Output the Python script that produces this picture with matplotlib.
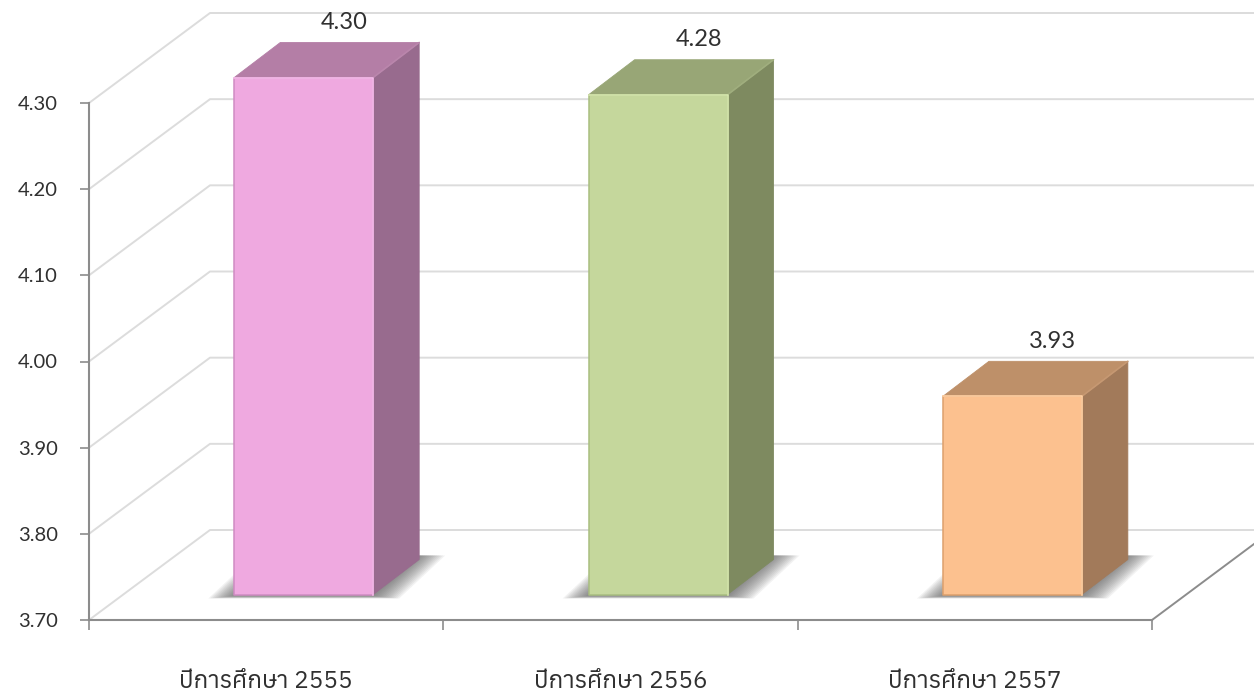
import matplotlib
matplotlib.use("Agg")
import matplotlib.pyplot as plt
from matplotlib import font_manager as fm
from matplotlib.ft2font import FT2Font
from matplotlib.patches import Polygon

categories = ["ปีการศึกษา 2555", "ปีการศึกษา 2556", "ปีการศึกษา 2557"]
values = [4.30, 4.28, 3.93]
value_labels = ["4.30", "4.28", "3.93"]
y_ticks = [3.70, 3.80, 3.90, 4.00, 4.10, 4.20, 4.30]
front_colors = ["#EFA9E0", "#C5D79C", "#FCC18F"]
top_colors = ["#B47EA6", "#98A676", "#BE9069"]
side_colors = ["#986B8E", "#7E8A60", "#A27A5A"]
edge_colors = ["#CF8BC2", "#A9BE80", "#DDA06C"]
light_colors = ["#F7BDEB", "#D8E8B0", "#FFD2A6"]
ridge_colors = ["#BA86AC", "#A0AE7E", "#C69872"]

W, H = 1254, 697
LEFT, RIGHT, BOTTOM, TOP = 89, 1152, 620, 103
PX_X = 3 / (RIGHT - LEFT)     # data units per pixel
PX_Y = 0.6 / (BOTTOM - TOP)
WALL_DX, WALL_DY = 121 * PX_X, 90 * PX_Y
BAR_DX, BAR_DY = 46 * PX_X, 35 * PX_Y
BAR_LEFT, BAR_W = 0.41, 0.392
BAR_LIFT = 25.5 * PX_Y
GRID = "#DCDCDC"
AXIS = "#8C8C8C"
INK = "#303030"

# pick a font that really has the Thai glyphs
thai = []
for f in fm.fontManager.ttflist:
    try:
        if 0x0E1B in FT2Font(f.fname).get_charmap():
            thai.append(f.name)
    except Exception:
        pass
thai_family = sorted(set(thai)) + ["Noto Sans", "DejaVu Sans"]
plt.rcParams["font.family"] = ["Lato", "DejaVu Sans"]

fig = plt.figure(figsize=(W / 100, H / 100), dpi=100)
ax = fig.add_axes([LEFT / W, 1 - BOTTOM / H, (RIGHT - LEFT) / W, (BOTTOM - TOP) / H])
ax.set_xlim(0, 3)
ax.set_ylim(3.7, 4.3)
ax.patch.set_alpha(0)

# wall and floor
for yv in y_ticks:
    ax.plot([0, WALL_DX, 3 + 102 * PX_X], [yv, yv + WALL_DY, yv + WALL_DY], color=GRID,
            linewidth=1.4, clip_on=False, zorder=1)
ax.plot([3, 3 + 102 * PX_X], [3.7, 3.7 + 76 * PX_Y], color=AXIS, linewidth=1.4,
        clip_on=False, zorder=2)

for i, v in enumerate(values):
    x0 = i + BAR_LEFT
    x1 = x0 + BAR_W
    y0 = 3.7 + BAR_LIFT
    y1 = v + BAR_LIFT

    # soft shadow on the floor, faded by stacking
    for k in range(14):
        sx = (26 - 2.0 * k) * PX_X
        sy_low = (4 - 0.2 * k) * PX_Y
        sy_up = 4 * PX_Y
        ax.add_patch(Polygon(
            [(x0 - sx, y0 - sy_low), (x1 + sx, y0 - sy_low),
             (x1 + BAR_DX + sx, y0 + BAR_DY + sy_up), (x0 + BAR_DX - sx, y0 + BAR_DY + sy_up)],
            closed=True, facecolor="#555555", edgecolor="none", alpha=0.075,
            zorder=3, clip_on=False))

    ax.add_patch(Polygon([(x1, y0), (x1 + BAR_DX, y0 + BAR_DY), (x1 + BAR_DX, y1 + BAR_DY), (x1, y1)],
                         closed=True, facecolor=side_colors[i], edgecolor=side_colors[i],
                         linewidth=0.6, joinstyle="round", zorder=4, clip_on=False))
    ax.add_patch(Polygon([(x0, y1), (x1, y1), (x1 + BAR_DX, y1 + BAR_DY), (x0 + BAR_DX, y1 + BAR_DY)],
                         closed=True, facecolor=top_colors[i], edgecolor=top_colors[i],
                         linewidth=0.6, joinstyle="round", zorder=5, clip_on=False))
    ax.plot([x1, x1 + BAR_DX], [y1, y1 + BAR_DY], color=ridge_colors[i], linewidth=1.2,
            solid_capstyle="round", zorder=5.5, clip_on=False)
    ax.add_patch(Polygon([(x0, y0), (x1, y0), (x1, y1), (x0, y1)],
                         closed=True, facecolor=front_colors[i], edgecolor=edge_colors[i],
                         linewidth=1.1, joinstyle="round", zorder=6, clip_on=False))
    ax.plot([x0, x1, x1], [y1, y1, y0], color=light_colors[i], linewidth=1.1,
            solid_joinstyle="round", zorder=6.5, clip_on=False)

    ax.text(x0 + 110 * PX_X, y1 + 55 * PX_Y, value_labels[i], ha="center", va="center",
            fontsize=17, color=INK, zorder=7, clip_on=False)

for name in ["top", "right"]:
    ax.spines[name].set_visible(False)
for name in ["left", "bottom"]:
    ax.spines[name].set_color(AXIS)
    ax.spines[name].set_linewidth(1.5)
    ax.spines[name].set_zorder(8)

ax.set_yticks(y_ticks)
ax.set_yticklabels([f"{t:.2f}" for t in y_ticks])
ax.tick_params(axis="y", length=6.5, width=1.2, color=AXIS, pad=16, labelsize=14.5, labelcolor=INK)
ax.set_xticks([0, 1, 2, 3])
ax.set_xticklabels([])
ax.tick_params(axis="x", which="major", length=7.5, width=1.2, color=AXIS)
ax.set_xticks([0.5, 1.5, 2.5], minor=True)
ax.set_xticklabels(categories, minor=True, family=thai_family)
ax.tick_params(axis="x", which="minor", length=0, pad=36, labelsize=17.5, labelcolor=INK)

fig.savefig("out.png", dpi=100)
plt.close(fig)
